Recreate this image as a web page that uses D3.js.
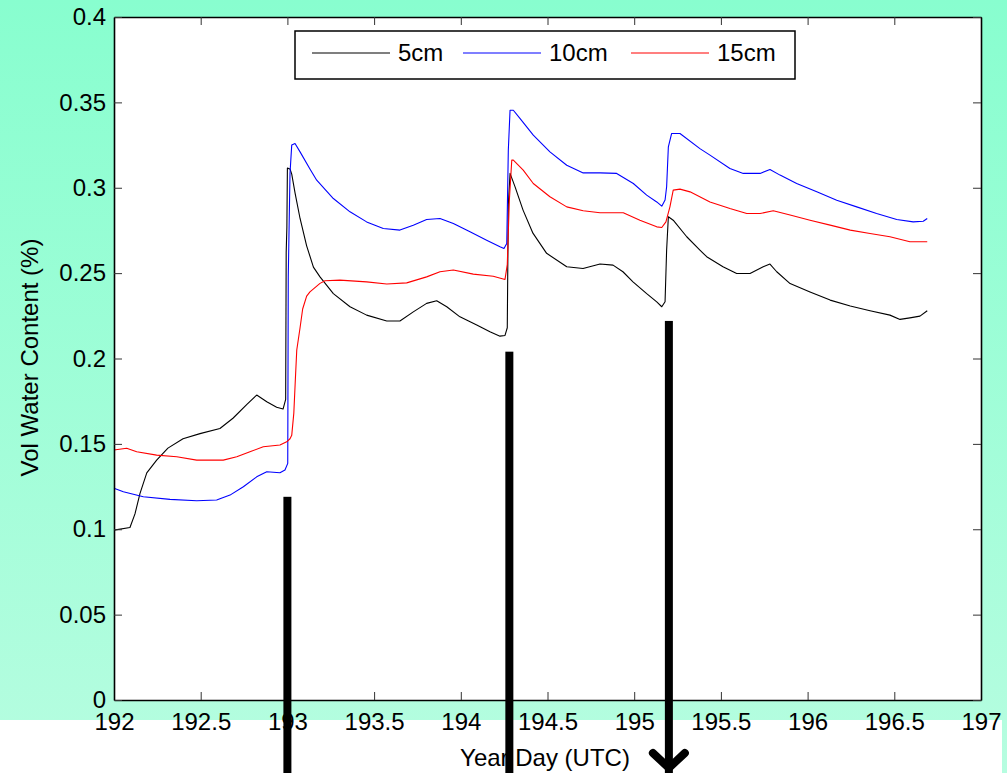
<!DOCTYPE html>
<html>
<head>
<meta charset="utf-8">
<script src="https://cdn.jsdelivr.net/npm/d3@7"></script>
<style>
  html, body { margin: 0; padding: 0; background: #ffffff; overflow: hidden; }
  svg { display: block; }
  text { font-family: "Liberation Sans", Arial, Helvetica, sans-serif; fill: #000; }
</style>
</head>
<body>
<svg id="chart" width="1007" height="773"></svg>
<script>
// Axis ticks
const xTicks = [192, 192.5, 193, 193.5, 194, 194.5, 195, 195.5, 196, 196.5, 197];
const yTicks = [0, 0.05, 0.1, 0.15, 0.2, 0.25, 0.3, 0.35, 0.4];

// Legend entries
const seriesNames = ["5cm", "10cm", "15cm"];
const seriesColors = ["#000000", "#0000ff", "#ff0000"];

// Volumetric water content, [year day, fraction]
const depth5cm = [
  [192.000,0.0995],[192.092,0.101],[192.121,0.109],[192.150,0.121],[192.189,0.133],[192.246,0.1405],
  [192.311,0.1475],[192.398,0.153],[192.496,0.156],[192.611,0.159],[192.686,0.165],[192.765,0.173],
  [192.823,0.1786],[192.881,0.1747],[192.938,0.1715],[192.975,0.1704],[192.990,0.176],[192.993,0.262],
  [192.997,0.277],[193.000,0.3115],[193.015,0.311],[193.025,0.308],[193.044,0.297],[193.073,0.282],
  [193.111,0.266],[193.150,0.2535],[193.188,0.2478],[193.265,0.238],[193.361,0.2303],[193.457,0.2254],
  [193.573,0.222],[193.649,0.222],[193.726,0.2273],[193.803,0.2323],[193.861,0.2338],[193.919,0.2303],
  [193.995,0.2244],[194.092,0.2196],[194.168,0.2156],[194.226,0.2131],[194.255,0.2135],[194.268,0.218],
  [194.274,0.290],[194.284,0.3084],[194.313,0.3005],[194.359,0.2869],[194.416,0.2734],[194.495,0.2616],
  [194.611,0.2537],[194.705,0.2527],[194.803,0.2553],[194.878,0.2547],[194.935,0.2508],[194.993,0.2449],
  [195.072,0.238],[195.130,0.2332],[195.159,0.2303],[195.178,0.2332],[195.187,0.2635],[195.197,0.283],
  [195.225,0.281],[195.303,0.2713],[195.379,0.2635],[195.418,0.2596],[195.512,0.2537],[195.591,0.2498],
  [195.668,0.2498],[195.744,0.2537],[195.783,0.2553],[195.822,0.2508],[195.899,0.2439],[196.014,0.239],
  [196.130,0.2342],[196.246,0.2307],[196.360,0.228],[196.475,0.2254],[196.533,0.2229],[196.590,0.2238],
  [196.648,0.2248],[196.690,0.228]
];
const depth10cm = [
  [192.000,0.124],[192.054,0.122],[192.169,0.119],[192.323,0.1175],[192.477,0.1167],[192.592,0.1171],
  [192.669,0.120],[192.746,0.1249],[192.823,0.1307],[192.881,0.1337],[192.957,0.1331],[192.986,0.1347],
  [193.002,0.1386],[193.005,0.2478],[193.015,0.3084],[193.025,0.325],[193.044,0.3259],[193.073,0.321],
  [193.130,0.311],[193.169,0.3044],[193.265,0.2937],[193.361,0.2859],[193.457,0.280],[193.553,0.2761],
  [193.649,0.2752],[193.726,0.2781],[193.803,0.2814],[193.880,0.282],[193.957,0.279],[194.053,0.2742],
  [194.149,0.2693],[194.226,0.2654],[194.249,0.2644],[194.265,0.2673],[194.274,0.322],[194.284,0.3454],
  [194.303,0.3454],[194.341,0.3406],[194.418,0.3308],[194.514,0.321],[194.611,0.3132],[194.706,0.3087],
  [194.803,0.3087],[194.899,0.3084],[194.995,0.3025],[195.072,0.2957],[195.130,0.2917],[195.159,0.2892],
  [195.178,0.2928],[195.187,0.3006],[195.197,0.324],[195.216,0.3318],[195.264,0.3318],[195.379,0.3229],
  [195.437,0.3191],[195.552,0.3113],[195.629,0.3084],[195.726,0.3084],[195.783,0.3107],[195.841,0.3074],
  [195.937,0.3025],[196.053,0.2976],[196.168,0.2927],[196.283,0.2888],[196.398,0.2849],[196.514,0.2814],
  [196.609,0.280],[196.667,0.2804],[196.690,0.282]
];
const depth15cm = [
  [192.000,0.1464],[192.073,0.1474],[192.131,0.1454],[192.246,0.1434],[192.362,0.1425],[192.477,0.1405],
  [192.630,0.1405],[192.708,0.1425],[192.784,0.1454],[192.861,0.1483],[192.957,0.1493],[192.996,0.1512],
  [193.015,0.153],[193.025,0.155],[193.037,0.168],[193.046,0.188],[193.054,0.205],[193.073,0.218],
  [193.088,0.229],[193.111,0.2365],[193.130,0.239],[193.188,0.244],[193.217,0.2455],[193.303,0.2459],
  [193.457,0.2449],[193.573,0.2436],[193.688,0.2443],[193.803,0.2478],[193.880,0.2508],[193.957,0.2518],
  [194.072,0.2494],[194.187,0.2482],[194.255,0.2463],[194.268,0.255],[194.280,0.2927],[194.294,0.3162],
  [194.303,0.3162],[194.360,0.3103],[194.418,0.3025],[194.514,0.2947],[194.611,0.2888],[194.706,0.2865],
  [194.803,0.2854],[194.937,0.2854],[195.033,0.281],[195.130,0.2771],[195.159,0.2767],[195.183,0.280],
  [195.206,0.2888],[195.225,0.2986],[195.264,0.2992],[195.322,0.2976],[195.437,0.2917],[195.552,0.2878],
  [195.649,0.2849],[195.726,0.2849],[195.802,0.2865],[195.899,0.284],[196.014,0.281],[196.130,0.2781],
  [196.246,0.2752],[196.360,0.2732],[196.475,0.2713],[196.590,0.2684],[196.690,0.2684]
];
const seriesData = [depth5cm, depth10cm, depth15cm];

// Rain event markers: day and the value where each bar starts
const eventDays = [193.0, 194.28, 195.2];
const eventTops = [0.119, 0.204, 0.222];

const W = 1007, H = 773;
const margin = { top: 17, right: 26, bottom: 73, left: 114 };
const plotW = W - margin.left - margin.right;
const plotH = H - margin.top - margin.bottom;

const svg = d3.select("#chart");

// Figure background: aquamarine fading lighter toward the bottom
const defs = svg.append("defs");
const grad = defs.append("linearGradient")
  .attr("id", "bg").attr("x1", 0).attr("y1", 0).attr("x2", 0).attr("y2", 1);
grad.append("stop").attr("offset", "0%").attr("stop-color", "#88fecf");
grad.append("stop").attr("offset", "100%").attr("stop-color", "#b6fde0");
svg.append("rect").attr("x", 0).attr("y", 0).attr("width", W).attr("height", H).attr("fill", "url(#bg)");
// white strip along the bottom
svg.append("rect").attr("x", 0).attr("y", 720).attr("width", 1002).attr("height", H - 720).attr("fill", "#ffffff");

const x = d3.scaleLinear().domain([192, 197]).range([margin.left, margin.left + plotW]);
const y = d3.scaleLinear().domain([0, 0.4]).range([margin.top + plotH, margin.top]);

// Plot area
svg.append("rect")
  .attr("x", margin.left).attr("y", margin.top)
  .attr("width", plotW).attr("height", plotH)
  .attr("fill", "#ffffff");

// Data lines
const line = d3.line().x(d => x(d[0])).y(d => y(d[1]));
seriesData.forEach((data, i) => {
  svg.append("path")
    .datum(data)
    .attr("d", line)
    .attr("fill", "none")
    .attr("stroke", seriesColors[i])
    .attr("stroke-width", 1.1)
    .attr("stroke-linejoin", "round");
});

// Axes (ticks point inward, box on all sides)
const tickLen = 8;
const fontSize = 24;
function styleAxis(g) {
  g.select(".domain").attr("stroke", "#000").attr("stroke-width", 1.6);
  g.selectAll(".tick line").attr("stroke", "#333").attr("stroke-width", 1);
  g.selectAll(".tick text").style("font-size", fontSize + "px")
    .style("font-family", '"Liberation Sans", Arial, sans-serif').attr("fill", "#000");
}
svg.append("g")
  .attr("transform", `translate(0,${margin.top + plotH})`)
  .call(d3.axisBottom(x).tickValues(xTicks).tickSizeInner(-tickLen).tickSizeOuter(0).tickPadding(13)
    .tickFormat(d3.format("")))
  .call(styleAxis);
svg.append("g")
  .attr("transform", `translate(0,${margin.top})`)
  .call(d3.axisTop(x).tickValues(xTicks).tickSizeInner(-tickLen).tickSizeOuter(0).tickFormat(""))
  .call(styleAxis);
svg.append("g")
  .attr("transform", `translate(${margin.left},0)`)
  .call(d3.axisLeft(y).tickValues(yTicks).tickSizeInner(-tickLen).tickSizeOuter(0).tickPadding(8)
    .tickFormat(d3.format("")))
  .call(styleAxis);
svg.append("g")
  .attr("transform", `translate(${margin.left + plotW},0)`)
  .call(d3.axisRight(y).tickValues(yTicks).tickSizeInner(-tickLen).tickSizeOuter(0).tickFormat(""))
  .call(styleAxis);

// Axis titles
svg.append("text")
  .attr("x", 545).attr("y", 766)
  .attr("text-anchor", "middle")
  .style("font-size", "24px")
  .text("Year Day (UTC)");
svg.append("text")
  .attr("transform", `translate(38,${y(0.2) - 1}) rotate(-90)`)
  .attr("text-anchor", "middle")
  .style("font-size", "24px")
  .text("Vol Water Content (%)");

// Legend
const legend = svg.append("g");
legend.append("rect")
  .attr("x", 295).attr("y", 31).attr("width", 500).attr("height", 48)
  .attr("fill", "#ffffff").attr("stroke", "#000").attr("stroke-width", 1.5);
const legendLineX = [312, 463, 631];
seriesNames.forEach((name, i) => {
  legend.append("line")
    .attr("x1", legendLineX[i]).attr("x2", legendLineX[i] + 78)
    .attr("y1", 53).attr("y2", 53)
    .attr("stroke", seriesColors[i]).attr("stroke-width", 1.1);
  legend.append("text")
    .attr("x", legendLineX[i] + 86).attr("y", 61)
    .style("font-size", "24px")
    .text(name);
});

// Rain event markers, drawn over everything
const barW = 8;
eventDays.forEach((d, i) => {
  svg.append("rect")
    .attr("x", x(d) - barW / 2).attr("y", y(eventTops[i]))
    .attr("width", barW).attr("height", H - y(eventTops[i]))
    .attr("fill", "#000");
});
// arrowhead on the last marker
const lastX = x(eventDays[eventDays.length - 1]);
svg.append("path")
  .attr("d", `M${lastX - 16},${753} L${lastX},${768} L${lastX + 16},${753}`)
  .attr("fill", "none").attr("stroke", "#000").attr("stroke-width", 8)
  .attr("stroke-linecap", "round");
</script>
</body>
</html>
